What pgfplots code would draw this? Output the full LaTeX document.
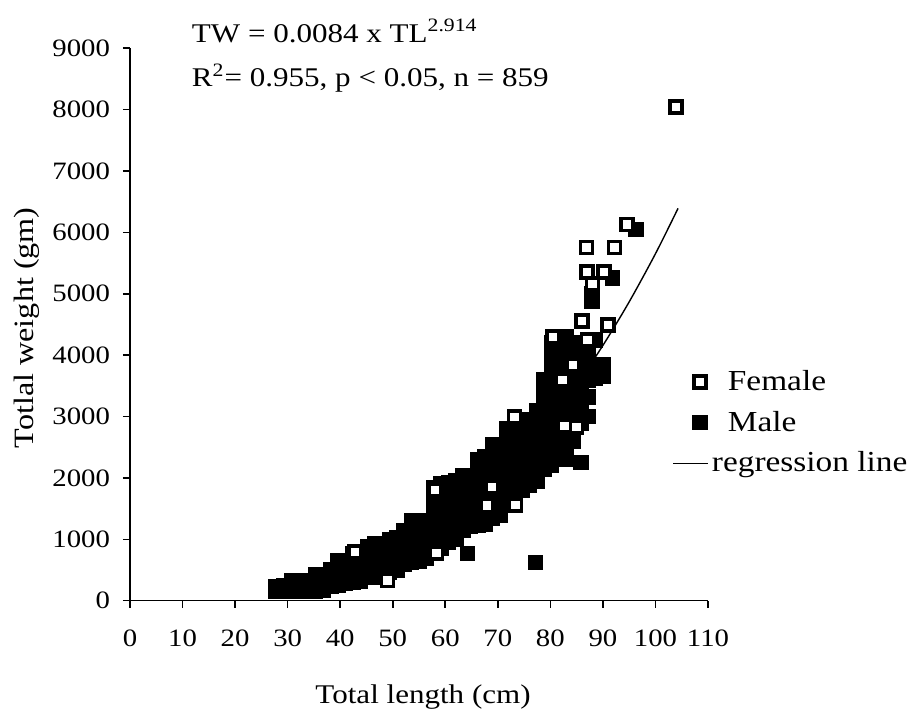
\documentclass[border=0pt]{standalone}
\usepackage{fontspec}
\setmainfont{Liberation Serif}[FakeStretch=1.15]
\usepackage{pgfplots}
\pgfplotsset{compat=1.18}
\pgfplotsset{
  malest/.style={only marks, mark=square*, mark size=3pt,
    mark options={fill=black, draw=black, line width=1.8pt},
    legend image code/.code={\coordinate (la) at (0cm,0cm); \coordinate (lb) at (0.6cm,0cm); \draw[##1] plot[only marks] coordinates {(0.476cm,0cm)};}},
  femst/.style={only marks, mark=square*, mark size=3pt,
    mark options={fill=white, draw=black, line width=1.8pt},
    legend image code/.code={\coordinate (la) at (0cm,0cm); \coordinate (lb) at (0.6cm,0cm); \draw[##1] plot[only marks] coordinates {(0.476cm,0cm)};}},
}
\begin{document}
\begin{tikzpicture}
\path[use as bounding box] (-65pt,-63.15pt) rectangle (395.5pt,300.35pt);
\begin{axis}[
  scale only axis, width=289pt, height=276.2pt,
  xmin=0, xmax=110, ymin=0, ymax=9000,
  axis lines*=left,
  axis line style={line width=0.8pt},
  tick style={line width=0.8pt, black},
  tick align=outside,
  major tick length=3.5pt,
  xtick={0,10,...,110}, ytick={0,1000,...,9000},
  /pgf/number format/assume math mode=true,
  /pgf/number format/1000 sep={},
  ticklabel style={font=\fontsize{12.5}{14}\selectfont},
  xticklabel style={yshift=-7.5pt},
  yticklabel style={xshift=-3pt},
  clip=false,
  xlabel={Total length (cm)},
  ylabel={Totlal weight (gm)},
  xlabel style={at={(axis description cs:0.507,-0.174)}, anchor=center, font=\fontsize{13.5}{16}\selectfont},
  ylabel style={at={(axis description cs:-0.178,0.494)}, anchor=center, font=\fontsize{14}{16}\selectfont},
  legend style={draw=none, fill=none, at={(axis description cs:0.9377,0.3226)}, anchor=west,
    font=\fontsize{14.5}{17}\selectfont, row sep=4.8pt, inner sep=0pt},
  legend cell align=left,
]
\addplot[malest, forget plot] coordinates {
(27.8,150) (27.8,220)
(29.3,150) (29.3,250)
(30.8,150) (30.8,330)
(32.3,150) (32.3,330)
(33.8,160) (33.8,330)
(35.3,160) (35.3,300) (35.3,425)
(36.8,170) (36.8,300) (36.8,425)
(38.2,230) (38.2,380) (38.2,500)
(39.6,250) (39.6,420) (39.6,600) (39.6,645)
(41.0,280) (41.0,460) (41.0,645)
(42.4,300) (42.4,480) (42.4,650) (42.4,765)
(43.8,320) (43.8,500) (43.8,680) (43.8,765)
(45.2,380) (45.2,550) (45.2,720) (45.2,873)
(46.6,390) (46.6,560) (46.6,750) (46.6,927)
(48.0,420) (48.0,600) (48.0,780) (48.0,927)
(49.4,460) (49.4,640) (49.4,820) (49.4,1000)
(50.8,500) (50.8,680) (50.8,860) (50.8,1025)
(52.2,600) (52.2,780) (52.2,960) (52.2,1134)
(53.6,630) (53.6,800) (53.6,980) (53.6,1150) (53.6,1297)
(55.0,650) (55.0,820) (55.0,1000) (55.0,1150) (55.0,1297)
(56.4,700) (56.4,880) (56.4,1060) (56.4,1240) (56.4,1297)
(57.8,800) (57.8,980) (57.8,1160) (57.8,1340) (57.8,1520) (57.8,1700) (57.8,1840)
(59.2,850) (59.2,1030) (59.2,1210) (59.2,1390) (59.2,1570) (59.2,1750) (59.2,1900)
(60.6,950) (60.6,1130) (60.6,1310) (60.6,1490) (60.6,1670) (60.6,1850) (60.6,1920)
(62.0,1000) (62.0,1180) (62.0,1360) (62.0,1540) (62.0,1720) (62.0,1900) (62.0,1950)
(63.4,1150) (63.4,1330) (63.4,1510) (63.4,1690) (63.4,1870) (63.4,2030)
(64.8,1220) (64.8,1400) (64.8,1580) (64.8,1760) (64.8,1940) (64.8,2030)
(66.2,1230) (66.2,1410) (66.2,1590) (66.2,1770) (66.2,1950) (66.2,2130) (66.2,2300)
(67.6,1250) (67.6,1430) (67.6,1610) (67.6,1790) (67.6,1970) (67.6,2150) (67.6,2350)
(69.0,1350) (69.0,1530) (69.0,1710) (69.0,1890) (69.0,2070) (69.0,2250) (69.0,2430) (69.0,2545)
(70.4,1400) (70.4,1580) (70.4,1760) (70.4,1940) (70.4,2120) (70.4,2300) (70.4,2480) (70.4,2545)
(71.8,1550) (71.8,1730) (71.8,1910) (71.8,2090) (71.8,2270) (71.8,2450) (71.8,2630) (71.8,2800)
(73.2,1650) (73.2,1830) (73.2,2010) (73.2,2190) (73.2,2370) (73.2,2550) (73.2,2730) (73.2,2950)
(74.6,1800) (74.6,1980) (74.6,2160) (74.6,2340) (74.6,2520) (74.6,2700) (74.6,2880) (74.6,2950)
(76.0,1880) (76.0,2060) (76.0,2240) (76.0,2420) (76.0,2600) (76.0,2780) (76.0,2950)
(77.4,1950) (77.4,2130) (77.4,2310) (77.4,2490) (77.4,2670) (77.4,2850) (77.4,3030) (77.4,3100)
(78.8,2150) (78.8,2330) (78.8,2510) (78.8,2690) (78.8,2870) (78.8,3050) (78.8,3230) (78.8,3410) (78.8,3600)
(80.2,2200) (80.2,2380) (80.2,2560) (80.2,2740) (80.2,2920) (80.2,3100) (80.2,3280) (80.2,3460) (80.2,3640) (80.2,3820) (80.2,4000) (80.2,4200)
(81.6,2300) (81.6,2480) (81.6,2660) (81.6,2840) (81.6,3020) (81.6,3200) (81.6,3380) (81.6,3560) (81.6,3740) (81.6,3920) (81.6,4100) (81.6,4280)
(83.0,2300) (83.0,2500) (83.0,2700) (83.0,2900) (83.0,3100) (83.0,3300) (83.0,3500) (83.0,3700) (83.0,3900) (83.0,4100) (83.0,4300)
(84.4,2600) (84.4,2800) (84.4,3000) (84.4,3200) (84.4,3400) (84.4,3600) (84.4,3800) (84.4,4000) (84.4,4200)
(85.8,2250) (85.8,2900) (85.8,3060) (85.8,3250) (85.8,3450) (85.8,3650) (85.8,3850) (85.8,4050)
(87.2,3000) (87.2,3320) (87.2,3600) (87.2,4000) (87.2,4200)
(88.6,3620) (88.6,3850) (88.6,4250)
(90.0,3650) (90.0,3850)
(64.2,772) (77.2,625) (96.3,6050) (91.8,5257) (87.9,5000) (87.9,4880)
};
\addplot[femst] coordinates {
(49.0,329) (58.3,777) (67.9,1551) (73.4,1559) (42.8,793) (58.0,1800)
(73.2,2990) (68.9,1850) (82.7,2845) (85.0,2830) (84.3,3845) (82.3,3600)
(80.5,4300) (87.1,4250) (86.0,4560) (91.0,4490) (87.0,5360) (90.2,5360)
(88.0,5160) (86.9,5754) (92.2,5754) (94.6,6130) (103.9,8040)
};
\addlegendentry{\hspace{8pt}Female}
\addlegendimage{malest}
\addlegendentry{\hspace{8pt}Male}
\addplot[black, line width=0.7pt, smooth] coordinates {
(27,124.5) (30,169.3) (35,265.2) (40,391.5) (45,551.8) (50,750) (55,990)
(60,1276) (65,1611) (70,1999) (75,2445) (80,2950) (85,3521) (90,4159)
(95,4869) (100,5653) (104.3,6392)
};
\addlegendentry{regression line}
\node[anchor=base west, font=\fontsize{13.5}{16}\selectfont] at (axis description cs:0.095,1.0114) {TW = 0.0084 x TL\textsuperscript{2.914}};
\node[anchor=base west, font=\fontsize{13.5}{16}\selectfont] at (axis description cs:0.095,0.930) {R\textsuperscript{2}= 0.955, p < 0.05, n = 859};
\end{axis}
\end{tikzpicture}
\end{document}
